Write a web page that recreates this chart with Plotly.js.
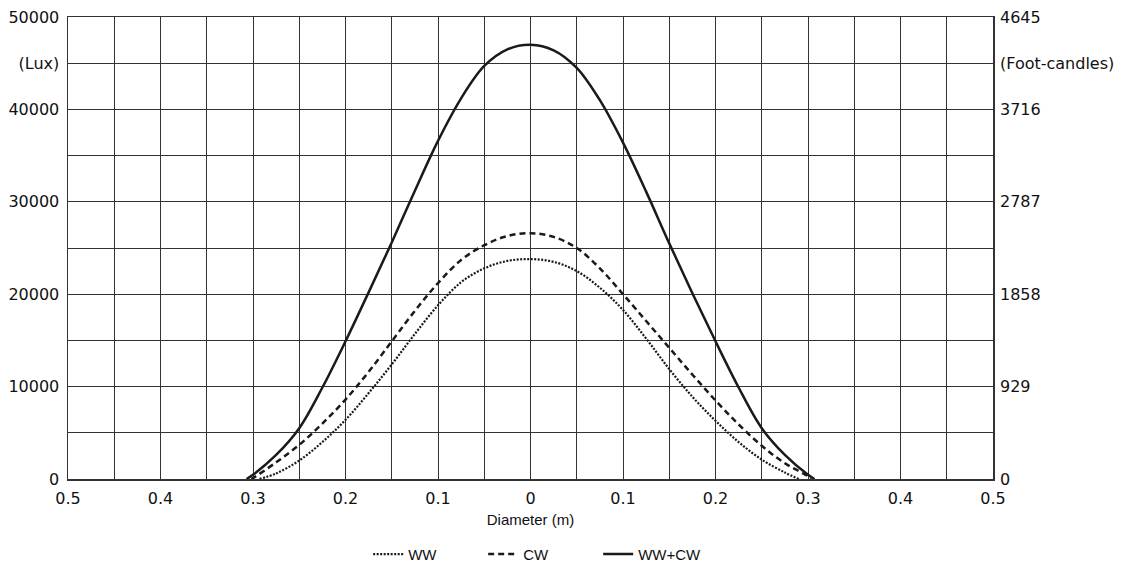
<!DOCTYPE html>
<html>
<head>
<meta charset="utf-8">
<script src="https://cdn.plot.ly/plotly-3.0.1.min.js"></script>
<style>html,body{margin:0;padding:0;background:#fff;}#chart{width:1127px;height:571px;}</style>
</head>
<body>
<div id="chart"></div>
<script>
// Diameter positions (m), negative = left side of centre
const xWWCW = [-0.307,-0.3,-0.275,-0.25,-0.225,-0.2,-0.175,-0.15,-0.125,-0.1,-0.075,-0.05,-0.025,0,0.025,0.05,0.075,0.1,0.125,0.15,0.175,0.2,0.225,0.25,0.275,0.3,0.307];
const yWWCW = [0,450,2600,5500,9900,14900,20200,25600,31200,36600,41200,44700,46500,47000,46400,44500,41000,36400,31100,25500,20100,14900,9900,5500,2600,450,0];

const xCW = [-0.302,-0.3,-0.275,-0.25,-0.225,-0.2,-0.175,-0.15,-0.125,-0.1,-0.075,-0.05,-0.025,0,0.025,0.05,0.075,0.1,0.125,0.15,0.175,0.2,0.225,0.25,0.275,0.3,0.303];
const yCW  = [0,100,1800,3700,6000,8600,11600,14900,18200,21200,23700,25300,26300,26600,26200,25000,22800,20000,17100,14200,11300,8500,5900,3600,1700,300,0];

const xWW = [-0.293,-0.275,-0.25,-0.225,-0.2,-0.175,-0.15,-0.125,-0.1,-0.075,-0.05,-0.025,0,0.025,0.05,0.075,0.1,0.125,0.15,0.175,0.2,0.225,0.25,0.275,0.29];
const yWW  = [0,600,2000,4000,6400,9300,12400,15700,18800,21300,22800,23600,23800,23500,22500,20700,18300,15200,11900,8900,6300,4000,2100,700,0];

const seriesNames = ['WW','CW','WW+CW'];

// Tick labels
const xTickVals = [-0.5,-0.4,-0.3,-0.2,-0.1,0,0.1,0.2,0.3,0.4,0.5];
const xTickText = ['0.5','0.4','0.3','0.2','0.1','0','0.1','0.2','0.3','0.4','0.5'];
const yTickVals = [0,10000,20000,30000,40000,45000,50000];
const yLuxText  = ['0','10000','20000','30000','40000','(Lux)','50000'];
const yFcText   = ['0','929','1858','2787','3716','(Foot-candles)','4645'];

const ink = '#1a1a1a';
const gridCol = '#333333';
const tickFont = {family:'DejaVu Sans, Verdana, sans-serif', size:16, color:'#111'};
const labelFont = {family:'Liberation Sans, Arial, sans-serif', size:15, color:'#111'};

const traces = [
  {x:xWW, y:yWW, name:seriesNames[0], mode:'lines', line:{color:ink, width:2.2, dash:'2px,1.5px', shape:'spline', smoothing:1}},
  {x:xCW, y:yCW, name:seriesNames[1], mode:'lines', line:{color:ink, width:2.5, dash:'6px,4px', shape:'spline', smoothing:1}},
  {x:xWWCW, y:yWWCW, name:seriesNames[2], mode:'lines', line:{color:ink, width:2.5, shape:'spline', smoothing:1}},
  {x:xWWCW, y:yWWCW, yaxis:'y2', mode:'lines', line:{width:0, color:'rgba(0,0,0,0)'}, showlegend:false, hoverinfo:'skip'}
];

const layout = {
  width:1127, height:571,
  margin:{l:68, r:134, t:17, b:91.5, autoexpand:false},
  paper_bgcolor:'#fff', plot_bgcolor:'#fff',
  showlegend:true,
  legend:{orientation:'h', x:0.511, xanchor:'center', y:-0.163, yanchor:'middle',
          entrywidth:70, font:labelFont, bgcolor:'rgba(0,0,0,0)'},
  xaxis:{range:[-0.5,0.5], tickmode:'array', tickvals:xTickVals, ticktext:xTickText, automargin:false,
         showgrid:true, gridcolor:gridCol, gridwidth:1,
         minor:{tick0:0, dtick:0.05, showgrid:true, gridcolor:gridCol, gridwidth:1},
         showline:true, linecolor:gridCol, linewidth:1.5, mirror:true, zeroline:false,
         ticks:'', ticklabelstandoff:4, tickfont:tickFont,
         title:{text:'Diameter (m)', font:labelFont, standoff:8}},
  yaxis:{range:[0,50000], tickmode:'array', tickvals:yTickVals, ticktext:yLuxText, automargin:false,
         showgrid:true, gridcolor:gridCol, gridwidth:1,
         minor:{tick0:0, dtick:5000, showgrid:true, gridcolor:gridCol, gridwidth:1},
         showline:true, linecolor:gridCol, linewidth:1.5, mirror:true, zeroline:false,
         ticks:'', ticklabelstandoff:4, tickfont:tickFont},
  yaxis2:{range:[0,50000], overlaying:'y', side:'right', tickmode:'array', tickvals:yTickVals, ticktext:yFcText, automargin:false,
          showgrid:false, zeroline:false, showline:false, ticks:'', ticklabelstandoff:6, tickfont:tickFont}
};

Plotly.newPlot('chart', traces, layout, {displayModeBar:false, staticPlot:true});
</script>
</body>
</html>
